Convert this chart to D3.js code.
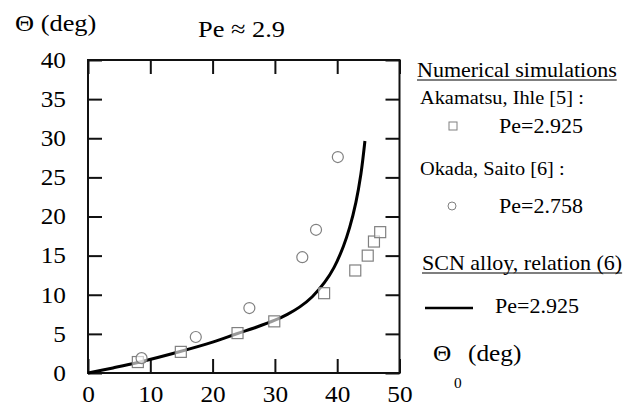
<!DOCTYPE html>
<html>
<head>
<meta charset="utf-8">
<script src="https://cdn.jsdelivr.net/npm/d3@7"></script>
<style>
  body { margin: 0; background: #fff; }
  text { font-family: 'Liberation Serif', 'Times New Roman', serif; fill: #000; }
</style>
</head>
<body>
<svg id="chart" width="643" height="405"></svg>
<script>
// tick values
const xTicks = [0, 10, 20, 30, 40, 50]
const yTicks = [0, 5, 10, 15, 20, 25, 30, 35, 40]

// Akamatsu, Ihle [5] : Pe=2.925 (squares)
const akamatsuX = [8.0, 14.9, 24.0, 29.9, 37.9, 42.9, 44.9, 45.9, 46.9]
const akamatsuY = [1.4, 2.7, 5.1, 6.6, 10.2, 13.1, 15.0, 16.8, 18.0]

// Okada, Saito [6] : Pe=2.758 (circles)
const okadaX = [8.6, 17.3, 25.9, 34.4, 36.6, 40.1]
const okadaY = [1.9, 4.6, 8.3, 14.8, 18.3, 27.6]

// SCN alloy, relation (6) : Pe=2.925 (curve)
const relationX = [0, 4, 8, 14.8, 20, 24, 27, 30, 32, 34, 36, 38, 39.5, 41, 42, 43, 43.8, 44.45]
const relationY = [0, 0.65, 1.35, 2.75, 3.95, 5.05, 5.85, 6.75, 7.5, 8.45, 9.75, 11.6, 13.5, 16.2, 18.6, 21.8, 25.4, 29.65]

// the reference type is a little wider than Liberation Serif
const SX = 1.1

const svg = d3.select('#chart')

const x = d3.scaleLinear().domain([0, 50]).range([88, 399.5])
const y = d3.scaleLinear().domain([0, 40]).range([373, 60])

/**
 * Draws the frame with inward ticks on all four sides
 */
function drawAxes () {
  const bottom = svg.append('g')
    .attr('transform', `translate(0, ${y(0)})`)
    .call(d3.axisBottom(x).tickValues(xTicks).tickSizeInner(-14).tickSizeOuter(0).tickPadding(13))
  const top = svg.append('g')
    .attr('transform', `translate(0, ${y(40)})`)
    .call(d3.axisTop(x).tickValues(xTicks).tickSizeInner(-14).tickSizeOuter(0).tickFormat(''))
  const left = svg.append('g')
    .attr('transform', `translate(${x(0)}, 0)`)
    .call(d3.axisLeft(y).tickValues(yTicks).tickSizeInner(-14).tickSizeOuter(0))
  const right = svg.append('g')
    .attr('transform', `translate(${x(50)}, 0)`)
    .call(d3.axisRight(y).tickValues(yTicks).tickSizeInner(-14).tickSizeOuter(0).tickFormat(''))

  for (const a of [bottom, top, left, right]) {
    a.select('.domain').remove()
    a.selectAll('line').attr('stroke', '#111').attr('stroke-width', 2)
    a.selectAll('text')
      .attr('font-family', "'Liberation Serif', serif")
      .attr('font-size', '23px')
      .attr('fill', '#000')
      .attr('transform', `scale(${SX},1)`)
  }
  left.selectAll('text').attr('x', -22 / SX)

  svg.append('rect')
    .attr('x', x(0))
    .attr('y', y(40))
    .attr('width', x(50) - x(0))
    .attr('height', y(0) - y(40))
    .attr('fill', 'none')
    .attr('stroke', '#111')
    .attr('stroke-width', 2)
}

/**
 * Draws the curve and the two sets of markers
 */
function drawData () {
  const curve = relationX.map((d, i) => [d, relationY[i]])
  svg.append('path')
    .datum(curve)
    .attr('fill', 'none')
    .attr('stroke', '#000')
    .attr('stroke-width', 3)
    .attr('d', d3.line().x(d => x(d[0])).y(d => y(d[1])).curve(d3.curveCatmullRom.alpha(0.5)))

  svg.append('g').selectAll('rect')
    .data(akamatsuX.map((d, i) => [d, akamatsuY[i]]))
    .join('rect')
    .attr('x', d => x(d[0]) - 5.5)
    .attr('y', d => y(d[1]) - 5.5)
    .attr('width', 11)
    .attr('height', 11)
    .attr('fill', '#fff')
    .attr('fill-opacity', 0.6)
    .attr('stroke', '#808080')
    .attr('stroke-width', 1.2)

  svg.append('g').selectAll('circle')
    .data(okadaX.map((d, i) => [d, okadaY[i]]))
    .join('circle')
    .attr('cx', d => x(d[0]))
    .attr('cy', d => y(d[1]))
    .attr('r', 5.5)
    .attr('fill', '#fff')
    .attr('fill-opacity', 0.6)
    .attr('stroke', '#808080')
    .attr('stroke-width', 1.2)
}

/**
 * Adds a text element, slightly widened
 */
function label (tx, ty, str, size) {
  return svg.append('text')
    .attr('transform', `translate(${tx}, ${ty}) scale(${SX},1)`)
    .attr('font-size', size + 'px')
    .text(str)
}

function underlined (tx, ty, str, size) {
  const t = label(tx, ty, str, size)
  const w = t.node().getComputedTextLength() * SX
  svg.append('line')
    .attr('x1', tx).attr('x2', tx + w)
    .attr('y1', ty + 3).attr('y2', ty + 3)
    .attr('stroke', '#000')
    .attr('stroke-width', 1.2)
}

/**
 * Titles and legend
 */
function drawLabels () {
  label(15, 31, 'Θ (deg)', 24)
  label(198, 37, 'Pe ≈ 2.9', 24)

  label(433, 361, 'Θ', 23)
  label(454, 388, '0', 14)
  label(468, 361, '(deg)', 23)

  underlined(417, 77, 'Numerical simulations', 20)
  label(420, 104, 'Akamatsu, Ihle [5] :', 18.5)
  svg.append('rect')
    .attr('x', 449).attr('y', 122).attr('width', 8).attr('height', 8)
    .attr('fill', '#fff').attr('stroke', '#808080').attr('stroke-width', 1)
  label(499, 133, 'Pe=2.925', 20)

  label(420, 175, 'Okada, Saito [6] :', 18.5)
  svg.append('circle')
    .attr('cx', 452).attr('cy', 206).attr('r', 4)
    .attr('fill', '#fff').attr('stroke', '#808080').attr('stroke-width', 1)
  label(499, 213, 'Pe=2.758', 20)

  underlined(422, 270, 'SCN alloy, relation (6)', 20)
  svg.append('line')
    .attr('x1', 425).attr('x2', 473).attr('y1', 308).attr('y2', 308)
    .attr('stroke', '#000').attr('stroke-width', 2.5)
  label(495, 313, 'Pe=2.925', 20)
}

drawAxes()
drawData()
drawLabels()
</script>
</body>
</html>
